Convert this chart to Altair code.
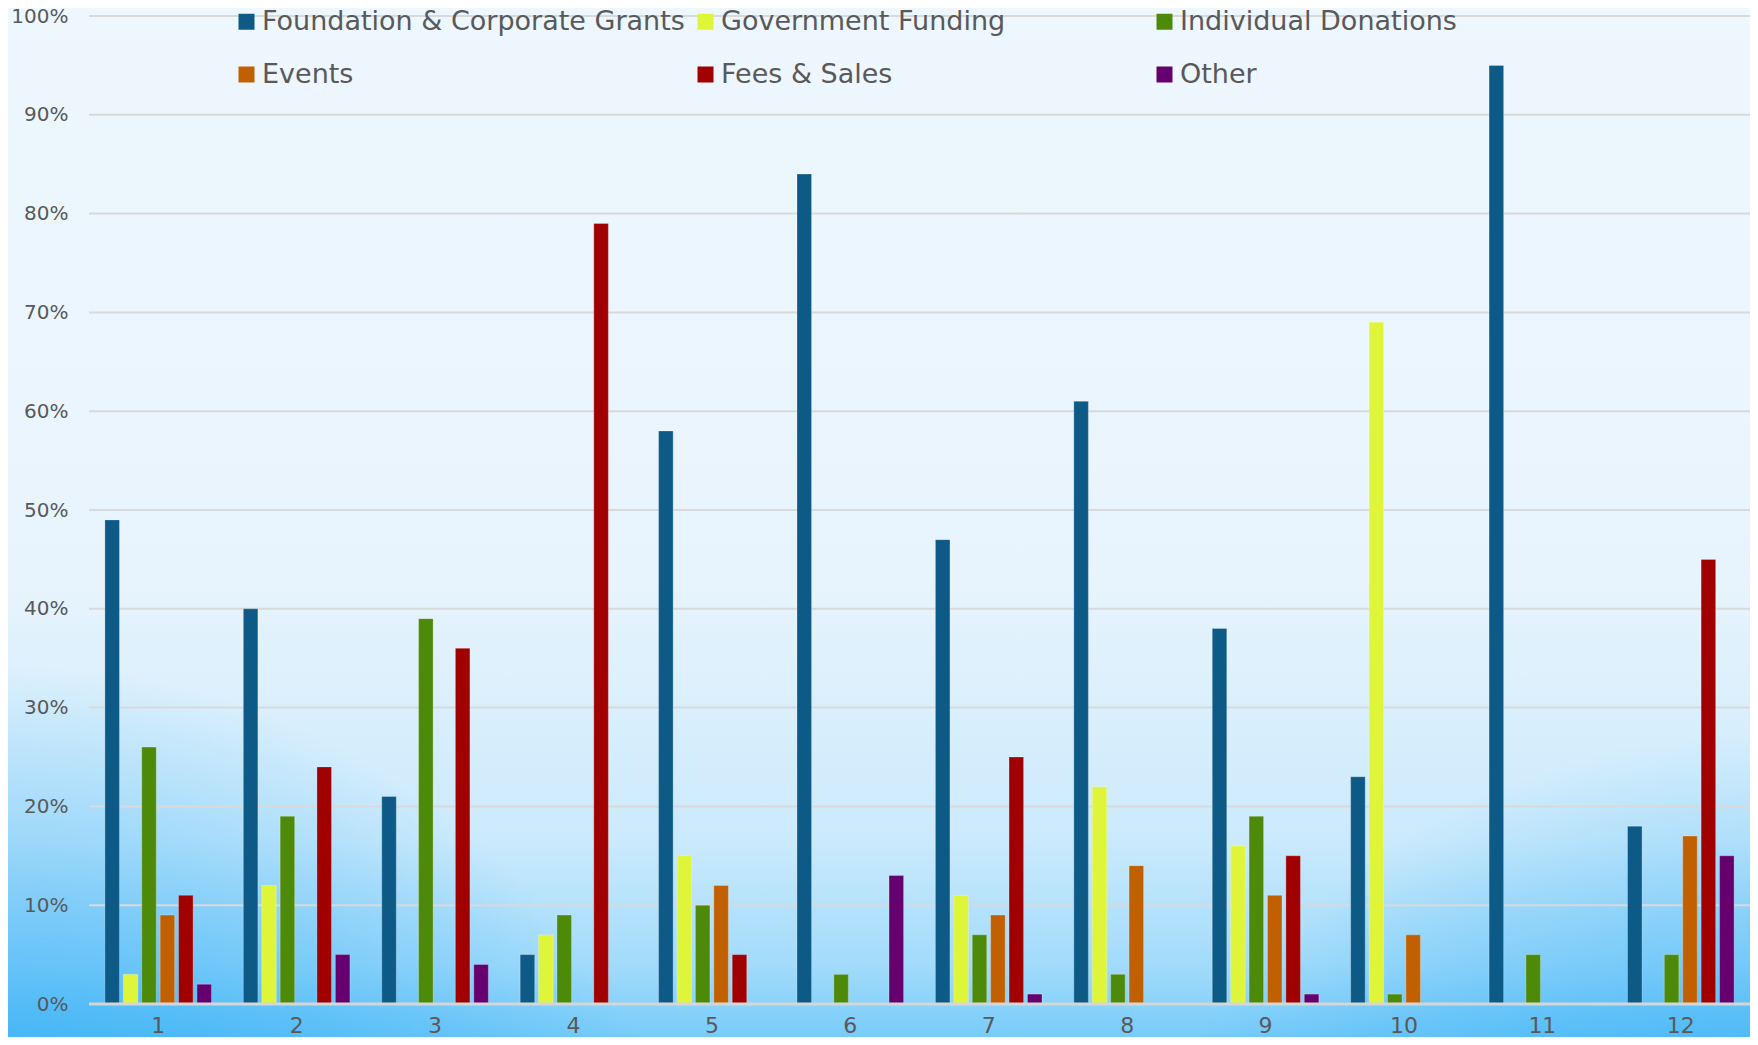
import altair as alt
import pandas as pd

groups = [str(i) for i in range(1, 13)]
series = ["Foundation & Corporate Grants", "Government Funding", "Individual Donations",
          "Events", "Fees & Sales", "Other"]
colors = ["#0E5A87", "#DFF53A", "#4E8A0A", "#C06000", "#A00000", "#66006E"]
y_ticks = list(range(0, 101, 10))

foundation = [49, 40, 21, 5, 58, 84, 47, 61, 38, 23, 95, 18]
government = [3, 12, 0, 7, 15, 0, 11, 22, 16, 69, 0, 0]
individual = [26, 19, 39, 9, 10, 3, 7, 3, 19, 1, 5, 5]
events = [9, 0, 0, 0, 12, 0, 9, 14, 11, 7, 0, 17]
fees = [11, 24, 36, 79, 5, 0, 25, 0, 15, 0, 0, 45]
other = [2, 5, 4, 0, 0, 13, 1, 0, 1, 0, 0, 15]

all_vals = [foundation, government, individual, events, fees, other]
rows = []
for s, vals in zip(series, all_vals):
    for g, v in zip(groups, vals):
        rows.append({"group": g, "series": s, "value": v})
df = pd.DataFrame(rows)
grid_df = pd.DataFrame({"value": y_ticks[1:]})

W, H = 1661, 988
FONT = "DejaVu Sans"
TXT = "#595959"

y_axis = alt.Axis(title=None, values=y_ticks, labelExpr="datum.value + '%'",
                  domain=False, ticks=False, grid=False,
                  labelFont=FONT, labelFontSize=20, labelColor=TXT, labelPadding=21,
                  zindex=1)
y_scale = alt.Scale(domain=[0, 100], nice=False)

bg_df = pd.DataFrame({"a": [0]})
full = dict(x=alt.value(-89), x2=alt.value(W + 10), y=alt.value(-16), y2=alt.value(H + 45))

bg = alt.Chart(bg_df).mark_rect(
    fill=alt.LinearGradient(
        gradient="linear", x1=0, y1=0, x2=0, y2=1,
        stops=[
            alt.GradientStop(offset=0, color="#EEF7FE"),
            alt.GradientStop(offset=0.55, color="#E8F4FD"),
            alt.GradientStop(offset=0.8, color="#CBEAFC"),
            alt.GradientStop(offset=0.92, color="#A2DBFB"),
            alt.GradientStop(offset=1, color="#70C9F9"),
        ],
    )
).encode(**full)

bl = alt.Chart(bg_df).mark_rect(
    fill=alt.RadialGradient(
        gradient="radial", x1=0, y1=1, r1=0, x2=0, y2=1, r2=0.42,
        stops=[
            alt.GradientStop(offset=0, color="rgba(30,165,245,1)"),
            alt.GradientStop(offset=0.5, color="rgba(40,170,245,0.6)"),
            alt.GradientStop(offset=1, color="rgba(40,170,245,0)"),
        ],
    )
).encode(**full)

br = alt.Chart(bg_df).mark_rect(
    fill=alt.RadialGradient(
        gradient="radial", x1=1, y1=1, r1=0, x2=1, y2=1, r2=0.38,
        stops=[
            alt.GradientStop(offset=0, color="rgba(30,165,245,1)"),
            alt.GradientStop(offset=0.5, color="rgba(40,170,245,0.55)"),
            alt.GradientStop(offset=1, color="rgba(40,170,245,0)"),
        ],
    )
).encode(**full)

grid = alt.Chart(grid_df).mark_rule(color="#D9D9D9", strokeWidth=2).encode(
    y=alt.Y("value:Q", scale=y_scale, axis=y_axis)
)

bars = alt.Chart(df).mark_bar(stroke="#FFFFFF", strokeOpacity=0.25, strokeWidth=1).encode(
    x=alt.X("group:N", sort=groups,
            scale=alt.Scale(paddingInner=0.23, paddingOuter=0.115),
            axis=alt.Axis(title=None, labelAngle=0, domain=False, ticks=False, grid=False,
                          labelFont=FONT, labelFontSize=22, labelColor=TXT, labelPadding=11,
                          zindex=1)),
    xOffset=alt.XOffset("series:N", sort=series,
                        scale=alt.Scale(paddingInner=0.21, paddingOuter=0)),
    y=alt.Y("value:Q", scale=y_scale, axis=y_axis),
    color=alt.Color("series:N", sort=series,
                    scale=alt.Scale(domain=series, range=colors),
                    legend=alt.Legend(orient="none", legendX=144, legendY=-8, columns=3,
                                      direction="horizontal", title=None, symbolType="square",
                                      symbolSize=256, symbolStrokeWidth=0,
                                      labelFontSize=27, labelFont=FONT, labelColor=TXT,
                                      labelLimit=800, columnPadding=7, rowPadding=25,
                                      gridAlign="all", labelOffset=2, padding=0, zindex=2)),
)

zero = alt.Chart(bg_df).mark_rule(color="#D6D6D6", strokeWidth=3).encode(y=alt.datum(0))

chart = alt.layer(bg, bl, br, grid, bars, zero).properties(
    width=W, height=H,
    autosize=alt.AutoSizeParams(type="none"),
    padding={"left": 81, "top": 8, "right": 0, "bottom": 33},
    background="#EEF7FE",
).configure_view(stroke=None)

chart.save("out.html", embed_options={"renderer": "svg", "actions": False})
